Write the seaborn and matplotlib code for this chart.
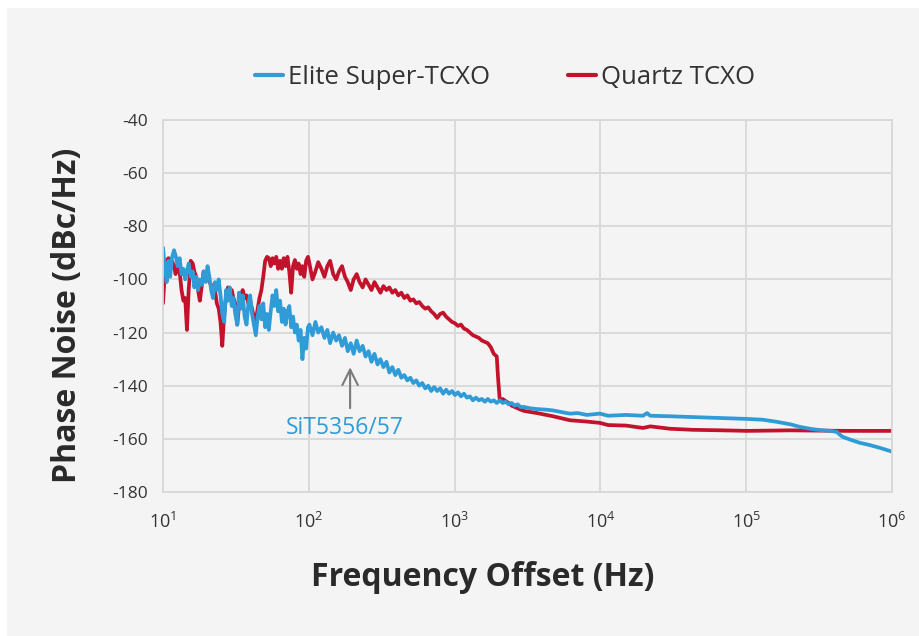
import numpy as np
import pandas as pd
import matplotlib
matplotlib.use("Agg")
import matplotlib.pyplot as plt
from matplotlib.patches import Rectangle
import seaborn as sns

# frequency offsets (Hz), shared by both traces below 2 kHz
low_freq = [10, 10.3, 10.6, 10.9, 11.2, 11.5, 11.9, 12.2, 12.6, 13.0,
            13.4, 13.8, 14.2, 14.6, 15.0, 15.5, 16.0, 16.4, 16.9, 17.4,
            17.9, 18.5, 19.0, 19.6, 20.2, 20.8, 21.4, 22.0, 22.7, 23.4,
            24.1, 24.8, 25.5, 26.3, 27.1, 27.9, 28.7, 29.6, 30.4, 31.3,
            32.3, 33.2, 34.2, 35.2, 36.3, 37.4, 38.5, 39.6, 40.8, 42.0,
            43.3, 44.6, 45.9, 47.3, 48.7, 50.2, 51.7, 53.2, 54.8, 56.4,
            58.1, 59.8, 61.6, 63.5, 65.4, 67.3, 69.3, 71.4, 73.5, 75.7,
            78.0, 80.3, 82.7, 85.2, 87.8, 90.4, 93.1, 95.9, 98.7]
mid_freq = [101, 106, 111, 116, 122, 128, 134, 140, 147, 154, 161, 169, 177, 185, 194,
            203, 213, 223, 234, 245, 257, 269, 282, 296, 310, 325, 341, 357, 374, 392,
            411, 431, 452, 474, 497, 521, 546, 572, 600, 629, 659, 691, 724, 759, 796, 834,
            874, 916, 960, 1006, 1055, 1106, 1159, 1215, 1274, 1335, 1400, 1467, 1538, 1612,
            1690, 1771, 1857, 1946]

# Elite Super-TCXO (SiT5356/57), phase noise in dBc/Hz
elite_low = [-88, -96, -101, -93, -99, -92, -89, -91, -95, -92,
             -98, -96, -100, -97, -94, -99, -97, -103, -99, -104,
             -100, -102, -97, -101, -95, -99, -104, -107, -101, -104,
             -100, -106, -113, -116, -104, -108, -103, -110, -107, -113,
             -117, -105, -111, -106, -114, -117, -109, -106, -113, -117,
             -121, -114, -110, -115, -109, -118, -113, -119, -112, -106,
             -110, -104, -112, -108, -116, -111, -117, -112, -110, -118,
             -114, -120, -117, -123, -119, -130, -122, -126, -118]
elite_mid = [-117, -121, -116, -120, -118, -122, -119, -124, -120, -123, -121, -125, -122, -127, -124,
             -128, -123, -127, -125, -129, -127, -131, -128, -132, -130, -133, -131, -135, -133, -136,
             -134, -137, -136, -138, -137, -139, -138, -140, -139, -141, -140, -142, -140.5, -142,
             -141, -143,
             -141.5, -143, -142, -143.5, -142.5, -144, -143, -144.5, -144, -145.5, -144.5, -145.5,
             -145, -146, -145, -146, -145.5, -146.5]
elite_tail_freq = [2040, 2138, 2241, 2349, 2462, 2581, 2706, 2836, 3000, 3300, 3675, 4200, 4730,
                   5500, 6186, 7000, 8091, 9935, 11270, 15000, 19590, 20890, 22000, 30000, 43150,
                   70000, 101300, 130000, 162600, 200000, 233800, 280000, 320600, 380000, 419400,
                   440000, 461000, 530000, 602600, 700000, 827600, 1000000]
elite_tail = [-145.5, -146.5, -146, -147, -146.5, -147.5, -147, -148, -148, -148.5, -148.8, -149,
              -149.3, -150, -150.5, -150.3, -151, -150.5, -151.3, -151, -151.3, -150.3, -151.3,
              -151.5, -151.8, -152.2, -152.5, -152.8, -153.6, -154.5, -155.5, -156.3, -156.7, -157,
              -157.4, -158.5, -159.3, -160.5, -161.5, -162.3, -163.4, -164.8]

# Quartz TCXO
quartz_low = [-109, -97, -93, -92, -94, -93, -95, -98, -94, -97,
              -104, -108, -107, -119, -104, -93, -94, -97, -99, -104,
              -108, -102, -97, -99, -98, -101, -102, -106, -104, -109,
              -111, -116, -125, -113, -106, -103, -105, -104, -107, -109,
              -117, -110, -106, -104, -107, -106, -109, -108, -111, -114,
              -116, -111, -107, -104, -99, -93, -91.5, -92, -95, -92,
              -94, -91.5, -96, -93, -96, -92, -95, -91.5, -97, -105,
              -95, -92.7, -96, -94, -98, -95, -99, -93, -91.5]
quartz_mid = [-94, -100, -97, -93.5, -96, -99, -95, -93, -98, -100, -97, -95, -99, -101, -104,
              -100, -98, -101, -103, -100, -102, -104, -101, -103, -105, -102.5, -104, -103, -105,
              -104,
              -106, -105, -107, -106, -108, -107.5, -109, -108.5, -110, -111, -110.5, -112, -113,
              -114.5, -113, -112.5,
              -114, -115, -116, -116.5, -117.5, -117, -118.5, -119, -120, -121, -121.5, -122, -123,
              -123.5, -124, -125.5, -128, -129]
quartz_tail_freq = [1986, 2040, 2138, 2241, 2349, 2462, 2581, 2706, 2836, 3000, 3675, 4730, 6186,
                    8091, 9935, 11270, 15000, 19590, 22000, 30000, 43150, 70000, 101300, 200000,
                    500000, 1000000]
quartz_tail = [-137, -145.4, -145, -145.8, -146.5, -147.5, -148, -148.5, -149, -149.5, -150.3,
               -151.5, -153, -153.5, -154, -154.8, -155, -155.9, -155.3, -156.2, -156.6, -156.8,
               -157, -156.8, -157, -157]

series_names = ["Elite Super-TCXO", "Quartz TCXO"]
y_ticks = [-40, -60, -80, -100, -120, -140, -160, -180]
x_ticks = [10, 100, 1000, 10000, 100000, 1000000]
x_tick_labels = ["$10^{1}$", "$10^{2}$", "$10^{3}$", "$10^{4}$", "$10^{5}$", "$10^{6}$"]

BLUE = "#2f9bd7"
RED = "#c3132c"
BG = "#f4f4f4"
GRID = "#d8d8d8"

sns.set_theme(style="whitegrid")
plt.rcParams["font.family"] = ["Open Sans", "DejaVu Sans"]
plt.rcParams["mathtext.fontset"] = "custom"
plt.rcParams["mathtext.rm"] = "Open Sans"
plt.rcParams["axes.unicode_minus"] = False

fig = plt.figure(figsize=(9.2, 6.36), dpi=100, facecolor="white")
fig.patches.append(Rectangle((7 / 920, 0), 1, 1 - 8 / 636, transform=fig.transFigure,
                             facecolor=BG, edgecolor="none", zorder=-10))
ax = fig.add_axes([163 / 920, 1 - 492 / 636, (892 - 163) / 920, (492 - 120) / 636])
ax.set_facecolor(BG)

# quartz first so the elite trace sits on top, as in the original
sns.lineplot(x=low_freq + mid_freq + quartz_tail_freq, y=quartz_low + quartz_mid + quartz_tail,
             ax=ax, color=RED, lw=2.7, label=series_names[1])
sns.lineplot(x=low_freq + mid_freq + elite_tail_freq, y=elite_low + elite_mid + elite_tail,
             ax=ax, color=BLUE, lw=2.7, label=series_names[0])

ax.set_xscale("log")
ax.set_xlim(10, 1e6)
ax.set_ylim(-180, -40)
ax.set_yticks(y_ticks)
ax.set_xticks(x_ticks)
ax.set_xticklabels(x_tick_labels)
ax.minorticks_off()
ax.grid(True, color=GRID, lw=1.3)
for s in ax.spines.values():
    s.set_color(GRID)
    s.set_linewidth(1.3)
ax.tick_params(axis="y", length=0, pad=11, labelsize=12.5, labelcolor="#333333")
ax.tick_params(axis="x", length=0, pad=14, labelsize=13, labelcolor="#333333")
ax.set_xlabel("")
ax.set_ylabel("")

# annotation for the Elite part
ax.annotate("", xy=(192, -132), xytext=(192, -149.5),
            arrowprops=dict(arrowstyle="->", color="#7a7a7a", lw=1.5, mutation_scale=28))
ax.text(177, -156, "SiT5356/57", color=BLUE, fontsize=16.5, ha="center", va="center")

handles, labels = ax.get_legend_handles_labels()
leg = ax.legend(handles[::-1], labels[::-1], loc="center",
                bbox_to_anchor=(505 / 920, 1 - 77 / 636),
                bbox_transform=fig.transFigure, ncol=2, frameon=False,
                fontsize=18.5, handlelength=1.1, handletextpad=0.2, columnspacing=3.0)
for t in leg.get_texts():
    t.set_color("#333333")
for h in leg.legend_handles:
    h.set_linewidth(3)

fig.text(483 / 920, 1 - 578 / 636, "Frequency Offset (Hz)", fontsize=23, fontweight="bold",
         color="#2a2a2a", ha="center", va="center")
fig.text(68 / 920, 1 - 315 / 636, "Phase Noise (dBc/Hz)", fontsize=23, fontweight="bold",
         color="#2a2a2a", ha="center", va="center", rotation=90)

fig.savefig("out.png", dpi=100, facecolor=fig.get_facecolor())
